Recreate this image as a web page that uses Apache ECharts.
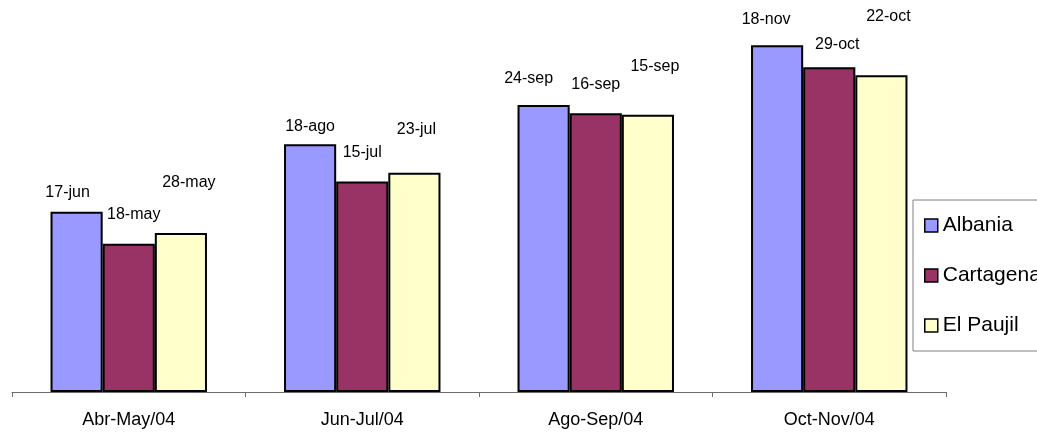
<!DOCTYPE html>
<html>
<head>
<meta charset="utf-8">
<script src="https://cdn.jsdelivr.net/npm/echarts@6/dist/echarts.min.js"></script>
<style>
  html, body { margin: 0; padding: 0; background: #fff; }
  #chart { width: 1037px; height: 432px; }
</style>
</head>
<body>
<div id="chart"></div>
<script>
// Periods on the category axis
const categories = ['Abr-May/04', 'Jun-Jul/04', 'Ago-Sep/04', 'Oct-Nov/04'];

// Series names
const seriesNames = ['Albania', 'Cartagena', 'El Paujil'];

// Bar values per site (relative scale, 0-100)
const albania   = [50.1, 68.8, 79.7, 96.3];
const cartagena = [41.2, 58.5, 77.4, 90.2];
const elPaujil  = [44.2, 60.9, 77.0, 88.0];

// Date shown above each bar
const albaniaDates   = ['17-jun', '18-ago', '24-sep', '18-nov'];
const cartagenaDates = ['18-may', '15-jul', '16-sep', '29-oct'];
const elPaujilDates  = ['28-may', '23-jul', '15-sep', '22-oct'];

// Hand-placed label offsets [dx, dy] for each bar
const albaniaOffsets   = [[-9, -11], [0, -10], [-15, -18], [-11, -18]];
const cartagenaOffsets = [[5, -21], [0, -21], [0, -21], [8, -15]];
const elPaujilOffsets  = [[8, -42], [2, -35], [7, -40], [7, -51]];

const colors = ['#9999FF', '#993366', '#FFFFCC'];
const FONT = '"Liberation Sans", Arial, sans-serif';

function buildSeries(name, values, dates, offsets, color) {
  return {
    name: name,
    type: 'bar',
    barGap: '0%',
    barCategoryGap: '33%',
    itemStyle: { color: color, borderColor: '#000', borderWidth: 2 },
    data: values.map((v, i) => ({
      value: v,
      label: {
        show: true,
        position: 'top',
        distance: 0,
        offset: offsets[i],
        formatter: dates[i],
        color: '#000',
        fontFamily: FONT,
        fontSize: 16
      }
    }))
  };
}

const chart = echarts.init(document.getElementById('chart'));
chart.setOption({
  animation: false,
  backgroundColor: '#fff',
  grid: { left: 12, right: 91, top: 32, bottom: 40 },
  legend: {
    orient: 'vertical',
    left: 913,
    top: 200,
    padding: [15, 60, 15, 11],
    itemWidth: 13,
    itemHeight: 13,
    itemGap: 29,
    itemTextGap: 5,
    borderColor: '#808080',
    borderWidth: 1,
    icon: 'rect',
    itemStyle: { borderColor: '#000', borderWidth: 1.5 },
    textStyle: { color: '#000', fontFamily: FONT, fontSize: 21, lineHeight: 21 },
    data: seriesNames
  },
  xAxis: {
    type: 'category',
    data: categories,
    axisLine: { lineStyle: { color: '#6e6e6e', width: 1 } },
    axisTick: { show: true, length: 5, alignWithLabel: false, lineStyle: { color: '#6e6e6e' } },
    axisLabel: { color: '#000', fontFamily: FONT, fontSize: 18, margin: 19 }
  },
  yAxis: {
    type: 'value',
    min: 0,
    max: 100,
    show: false,
    splitLine: { show: false }
  },
  series: [
    buildSeries(seriesNames[0], albania, albaniaDates, albaniaOffsets, colors[0]),
    buildSeries(seriesNames[1], cartagena, cartagenaDates, cartagenaOffsets, colors[1]),
    buildSeries(seriesNames[2], elPaujil, elPaujilDates, elPaujilOffsets, colors[2])
  ]
});
</script>
</body>
</html>
